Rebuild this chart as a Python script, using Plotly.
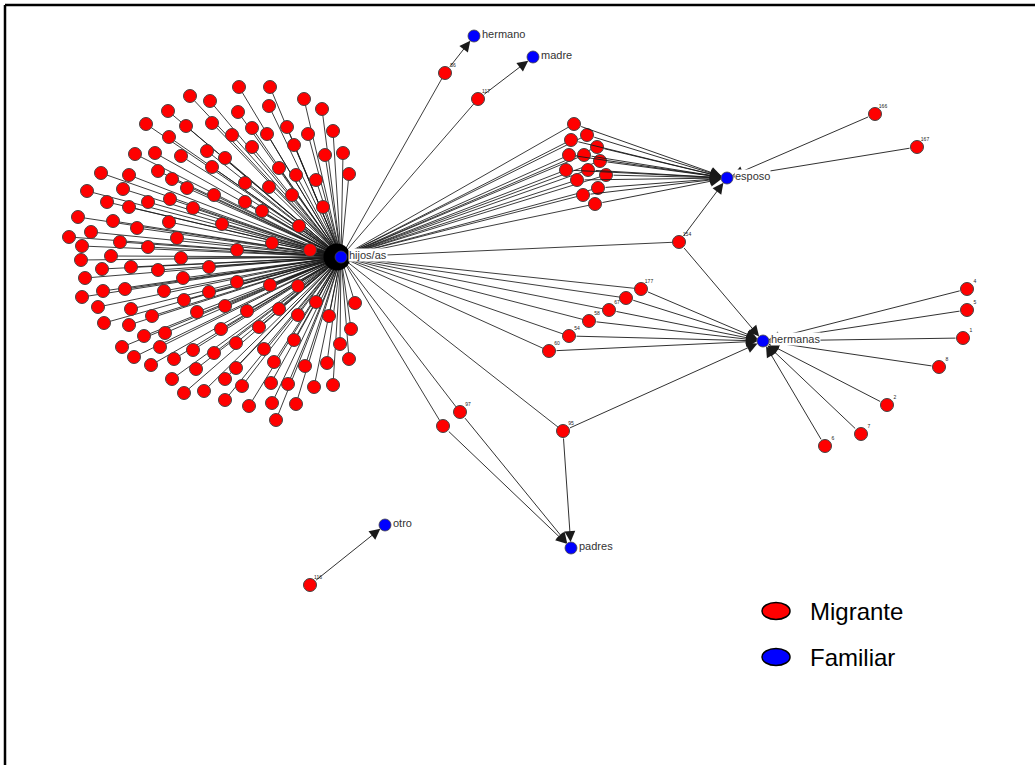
import plotly.graph_objects as go

# ---------------- data ----------------
# Family (blue) nodes
fam_names = ["hijos/as", "hermano", "madre", "esposo", "hermanas", "padres", "otro"]
fam_x = [341, 474, 533, 727, 763, 571, 385]
fam_y = [257, 36, 57, 178, 341, 548, 525]

# Migrants linked only to "hijos/as"
hijos_x = [239,270,190,210,304,322,168,238,269,146,186,212,252,287,333,232,267,308,169,343,
           294,252,325,135,155,181,207,225,212,279,349,101,129,158,172,296,316,245,269,187,
           87,123,214,292,107,129,148,170,193,245,262,323,78,113,137,169,222,299,69,91,
           120,177,272,82,148,237,310,111,81,181,102,131,158,209,85,183,237,270,298,103,
           125,164,209,82,184,98,131,225,247,279,316,355,152,197,298,329,104,129,221,259,
           351,144,165,122,160,193,214,236,264,294,340,134,151,174,196,236,274,305,327,349,
           172,225,242,271,288,314,333,184,204,225,249,272,296,276]
hijos_y = [87,87,96,101,99,109,111,112,106,124,126,123,128,127,131,135,134,134,137,153,
           145,147,155,154,153,156,151,158,167,168,174,173,175,171,179,175,180,183,187,188,
           191,189,195,195,202,207,202,199,208,202,211,207,217,221,228,222,224,226,237,232,
           242,238,243,246,247,250,250,256,260,258,269,267,270,267,278,278,282,285,286,291,
           289,291,292,297,300,307,309,306,311,309,302,303,316,312,315,316,323,325,329,327,
           329,336,333,347,347,350,353,343,349,340,344,357,365,359,369,368,362,366,363,359,
           379,379,386,383,384,387,385,393,391,400,406,403,404,420]

# Migrants linked to "hijos/as" and "esposo"
esp_x = [574, 587, 571, 597, 569, 584, 600, 566, 588, 606, 577, 598, 583, 595]
esp_y = [124, 135, 140, 147, 155, 155, 161, 170, 170, 175, 180, 188, 195, 204]

# Migrants linked to "hijos/as" and "hermanas"
herm_l_x = [641, 626, 609, 589, 569, 549]
herm_l_y = [289, 298, 310, 321, 336, 351]
herm_l_lab = ["177", "", "67", "58", "54", "60"]

# Migrants linked only to "hermanas"
herm_r_x = [967, 967, 963, 939, 887, 861, 825]
herm_r_y = [289, 310, 338, 367, 405, 434, 446]
herm_r_lab = ["4", "5", "1", "8", "2", "7", "6"]

# Other migrants: label, x, y, linked family nodes
other_lab = ["56", "117", "166", "167", "154", "95", "97", "", "116"]
other_x = [445, 478, 875, 917, 679, 563, 460, 443, 310]
other_y = [73, 99, 114, 147, 242, 431, 412, 426, 585]
other_links = [["hijos/as", "hermano"], ["hijos/as", "madre"], ["esposo"], ["esposo"],
               ["hijos/as", "esposo", "hermanas"], ["hijos/as", "padres", "hermanas"],
               ["hijos/as", "padres"], ["hijos/as", "padres"], ["otro"]]

legend_labels = ["Migrante", "Familiar"]

# ---------------- build ----------------
fam = {n: (x, y) for n, x, y in zip(fam_names, fam_x, fam_y)}
hub = fam["hijos/as"]

red_x, red_y = [], []
hub_edges = []      # sources linking to hub
arrow_edges = []    # (source, target) with arrowheads

for x, y in zip(hijos_x, hijos_y):
    red_x.append(x); red_y.append(y)
    hub_edges.append((x, y))
for x, y in zip(esp_x, esp_y):
    red_x.append(x); red_y.append(y)
    hub_edges.append((x, y))
    arrow_edges.append(((x, y), fam["esposo"]))
for x, y in zip(herm_l_x, herm_l_y):
    red_x.append(x); red_y.append(y)
    hub_edges.append((x, y))
    arrow_edges.append(((x, y), fam["hermanas"]))
for x, y in zip(herm_r_x, herm_r_y):
    red_x.append(x); red_y.append(y)
    arrow_edges.append(((x, y), fam["hermanas"]))
for x, y, links in zip(other_x, other_y, other_links):
    red_x.append(x); red_y.append(y)
    for t in links:
        if t == "hijos/as":
            hub_edges.append((x, y))
        else:
            arrow_edges.append(((x, y), fam[t]))

ex, ey = [], []
for (x, y) in hub_edges:
    ex += [x, hub[0], None]
    ey += [y, hub[1], None]

fig = go.Figure()
fig.add_trace(go.Scatter(x=ex, y=ey, mode="lines",
                         line=dict(color="#1a1a1a", width=0.85), hoverinfo="skip"))

# arrowhead pile at the hub
fig.add_trace(go.Scatter(x=[hub[0] - 4], y=[hub[1]], mode="markers",
                         marker=dict(size=27, color="black"), hoverinfo="skip"))

# small node id labels
lab_x = list(herm_l_x) + list(herm_r_x) + list(other_x)
lab_y = list(herm_l_y) + list(herm_r_y) + list(other_y)
lab_t = list(herm_l_lab) + list(herm_r_lab) + list(other_lab)
fig.add_trace(go.Scatter(x=[v + 8 for v in lab_x], y=[v - 7 for v in lab_y], mode="text",
                         text=lab_t, textfont=dict(size=5, color="#222", family="Liberation Sans"),
                         hoverinfo="skip"))

fig.add_trace(go.Scatter(x=red_x, y=red_y, mode="markers",
                         marker=dict(size=13, color="#ff0000", line=dict(color="#444", width=1)),
                         hoverinfo="skip"))
fig.add_trace(go.Scatter(x=fam_x, y=fam_y, mode="markers",
                         marker=dict(size=12, color="#0000ff", line=dict(color="#444", width=0.8)),
                         hoverinfo="skip"))

annotations = []
for (s, t) in arrow_edges:
    annotations.append(dict(x=t[0], y=t[1], ax=s[0], ay=s[1], xref="x", yref="y",
                            axref="x", ayref="y", text="", showarrow=True, arrowhead=2,
                            arrowsize=2.4, arrowwidth=0.9, arrowcolor="#1a1a1a",
                            standoff=6, startstandoff=6))

for n, x, y in zip(fam_names, fam_x, fam_y):
    annotations.append(dict(x=x + 7, y=y - 2, xref="x", yref="y", text=n, showarrow=False,
                            xanchor="left", yanchor="middle", bgcolor="white", borderpad=0,
                            font=dict(size=11, color="#333", family="Liberation Sans")))

# legend
leg_y = [611, 657]
leg_col = ["#ff0000", "#0000ff"]
shapes = []
for ly, c, lt in zip(leg_y, leg_col, legend_labels):
    shapes.append(dict(type="circle", xref="x", yref="y", x0=762, x1=790, y0=ly - 8.5, y1=ly + 8.5,
                       fillcolor=c, line=dict(color="black", width=1.5)))
    annotations.append(dict(x=808, y=ly, xref="x", yref="y", text=lt, showarrow=False,
                            xanchor="left", yanchor="middle",
                            font=dict(size=24, color="black", family="Liberation Sans")))

# frame
shapes.append(dict(type="line", xref="x", yref="y", x0=5, x1=1035, y0=5, y1=5,
                   line=dict(color="black", width=2.5)))
shapes.append(dict(type="line", xref="x", yref="y", x0=5, x1=5, y0=5, y1=765,
                   line=dict(color="black", width=2.5)))

fig.update_layout(width=1035, height=765, margin=dict(l=0, r=0, t=0, b=0),
                  paper_bgcolor="white", plot_bgcolor="white", showlegend=False,
                  xaxis=dict(range=[0, 1035], visible=False, fixedrange=True),
                  yaxis=dict(range=[765, 0], visible=False, fixedrange=True),
                  annotations=annotations, shapes=shapes)

fig.write_html("out.html", config={"displayModeBar": False},
               post_script="document.body.style.margin='0px';document.body.style.overflow='hidden';")
